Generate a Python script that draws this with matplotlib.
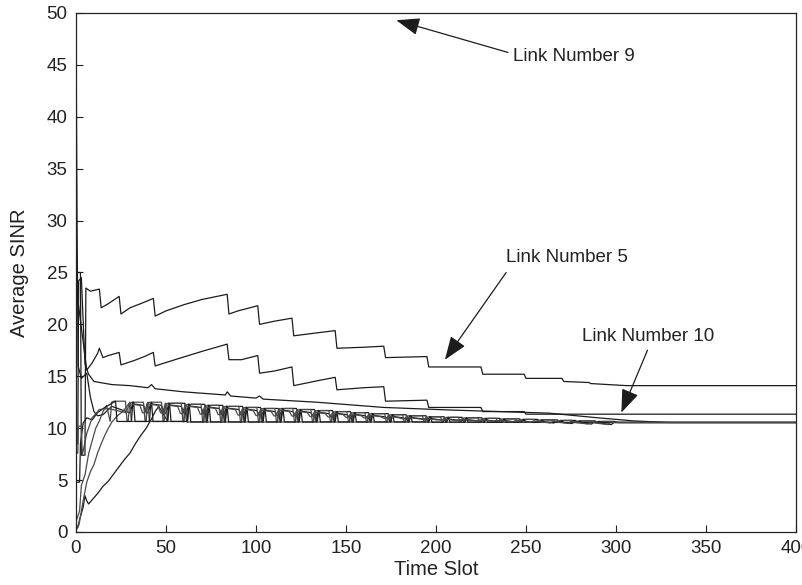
import matplotlib
matplotlib.use("Agg")
import matplotlib.pyplot as plt

plt.rcParams["font.family"] = ["Liberation Sans", "DejaVu Sans"]

# ---- data (time slot, average SINR) ----
# link 5: the upper saw-tooth
link5_t = [0, 2.5, 3, 5, 5.5, 8, 13, 14, 18, 24, 25, 30, 36, 43, 44, 50, 60, 70, 84, 85, 90,
           101, 102, 110, 120, 121, 130, 144, 145, 160, 171, 172, 195, 196, 225, 226, 249, 250,
           270, 271, 285, 286, 306, 400]
link5_v = [25.0, 25.0, 7.4, 7.4, 23.5, 23.2, 23.4, 21.6, 22.0, 22.7, 21.0, 21.6, 22.0, 22.5, 20.8,
           21.3, 21.9, 22.4, 22.9, 21.0, 21.3, 21.8, 20.0, 20.3, 20.6, 18.9, 19.1, 19.4, 17.7, 17.8,
           17.9, 16.8, 16.9, 15.9, 15.9, 15.2, 15.2, 14.8, 14.8, 14.5, 14.4, 14.3, 14.1, 14.1]

# link 10: the lower saw-tooth
link10_t = [0, 6, 9, 12, 13, 15, 18, 22, 24, 25, 32, 38, 43, 44, 55, 70, 84, 85, 92, 101, 102,
            110, 120, 121, 135, 144, 145, 160, 171, 172, 195, 196, 225, 226, 249, 250, 400]
link10_v = [23.8, 15.6, 16.3, 17.2, 17.7, 16.8, 17.0, 17.2, 17.3, 16.1, 16.5, 16.9, 17.3, 16.0,
            16.6, 17.4, 18.1, 16.6, 16.6, 17.0, 15.3, 15.5, 15.9, 14.1, 14.6, 14.9, 13.7, 13.9,
            14.0, 12.6, 12.7, 12.0, 12.0, 11.6, 11.6, 11.35, 11.35]

# slowly decaying link
slow_t = [0, 1, 1.5, 3, 5, 7, 10, 20, 30, 40, 42, 44, 60, 83, 84, 86, 100, 102, 104, 134, 171,
          208, 263, 290, 310, 330, 400]
slow_v = [8.5, 8.5, 24.2, 24.5, 16.2, 15.2, 14.5, 14.2, 14.1, 13.9, 14.2, 13.8, 13.5, 13.2, 13.5,
          13.1, 12.9, 13.1, 12.8, 12.5, 12.0, 11.75, 11.45, 11.0, 10.7, 10.55, 10.55]

# start of the links that end up in the bundle near 10.5
link9_t = [0, 0.6, 1.2, 3, 6, 8, 10, 12, 15, 18, 20]
link9_v = [50.0, 30.0, 16.0, 14.8, 15.3, 13.0, 11.6, 11.2, 11.3, 11.8, 12.1]
rampa_t = [0, 1, 2, 4, 5, 6, 7, 9, 12, 15, 18, 21, 24, 27, 30, 33, 36, 39, 42, 44, 46]
rampa_v = [0.3, 0.4, 1.2, 2.4, 3.5, 3.0, 2.7, 3.1, 3.7, 4.4, 4.9, 5.6, 6.3, 7.0, 7.6, 8.5, 9.3,
           10.0, 10.9, 11.6, 12.1]
rampb_t = [0, 1.5, 2, 4, 6, 8, 10, 12, 14, 16, 18, 20, 23, 26]
rampb_v = [0.6, 0.6, 1.0, 3.0, 4.8, 5.8, 6.5, 7.6, 8.5, 9.3, 10.0, 10.6, 11.2, 11.6]
rampc_t = [0, 2, 3, 5, 7, 9, 11, 13, 15, 17]
rampc_v = [1.0, 2.0, 4.5, 5.5, 7.5, 8.8, 10.0, 10.7, 11.6, 12.2]
startd_t = [0, 2, 2.5, 4, 6, 9, 12, 16]
startd_v = [4.8, 4.8, 8.5, 10.5, 11.0, 10.8, 11.5, 12.0]
starte_t = [0, 1, 1.3, 3, 3.5, 6, 9, 13, 18]
starte_v = [7.6, 7.6, 10.2, 10.2, 7.4, 9.5, 11.0, 11.8, 11.9]

# oscillation cells of the bundle
cell_t = [20, 30, 40, 50, 61, 72, 82, 93, 103, 113, 123, 133, 143, 153, 163, 174, 184, 195,
          205, 215, 226, 236, 247, 257, 268, 278, 289, 300]
cell_top = [12.6, 12.5, 12.5, 12.4, 12.3, 12.2, 12.1, 12.0, 11.9, 11.9, 11.8, 11.7, 11.6, 11.5,
            11.4, 11.3, 11.2, 11.1, 11.05, 11.0, 10.95, 10.9, 10.85, 10.8, 10.75, 10.7, 10.65]
cell_low = [10.65, 10.65, 10.65, 10.65, 10.6, 10.6, 10.6, 10.6, 10.6, 10.6, 10.6, 10.6, 10.6,
            10.6, 10.6, 10.6, 10.6, 10.58, 10.58, 10.58, 10.57, 10.57, 10.56, 10.56, 10.55,
            10.55, 10.55]
final_v = 10.55


def bundle_line(t0, v0, role, shift):
    t = list(t0)
    v = list(v0)
    for a, b, top, low in zip(cell_t[:-1], cell_t[1:], cell_top, cell_low):
        a, b = a + shift, b + shift
        if a <= t[-1]:
            continue
        mid = low + 0.45 * (top - low)
        if role == "up":
            pts = [(a, low), (a + 0.8, top - 0.1), (a + 2, top), (b - 1.5, top), (b - 0.6, low)]
        elif role == "down":
            pts = [(a, top), (a + 0.8, low), (b - 1.2, low), (b - 0.4, top - 0.1)]
        else:
            pts = [(a, mid), (a + 1.5, top - 0.15), (b - 2.5, top - 0.3), (b - 1, mid)]
        for x, y in pts:
            t.append(x)
            v.append(y)
    t += [cell_t[-1] + shift + 3, 400]
    v += [final_v, final_v]
    return t, v


fig = plt.figure(figsize=(8.03, 5.85), dpi=100)
ax = fig.add_axes([0.0946, 0.0906, 0.8966, 0.8872])

ink = "#1c1c1c"
grey = "#4a4a4a"
ax.plot(link5_t, link5_v, color=ink, lw=0.9)
ax.plot(link10_t, link10_v, color=ink, lw=0.9)
ax.plot(slow_t, slow_v, color=ink, lw=0.9)

bundle = [
    (link9_t, link9_v, "mid", 0, ink),
    (rampa_t, rampa_v, "up", 1, ink),
    (rampb_t, rampb_v, "down", 0, grey),
    (rampc_t, rampc_v, "up", -1, grey),
    (startd_t, startd_v, "down", 2, ink),
    (starte_t, starte_v, "mid", -2, grey),
]
for t0, v0, role, shift, col in bundle:
    bt, bv = bundle_line(t0, v0, role, shift)
    ax.plot(bt, bv, color=col, lw=0.9)

ax.set_xlim(0, 400)
ax.set_ylim(0, 50)
ax.set_xticks(range(0, 401, 50))
ax.set_yticks(range(0, 51, 5))
ax.tick_params(direction="in", length=5, width=0.8, labelsize=13.5, colors="#222222",
               top=False, right=False, pad=6)
for s in ax.spines.values():
    s.set_linewidth(0.9)
    s.set_color("#222222")

ax.set_xlabel("Time Slot", fontsize=14.5, color="#222222", labelpad=2)
ax.set_ylabel("Average SINR", fontsize=14.5, color="#222222", labelpad=13)

arrow = dict(arrowstyle="-|>,head_length=0.8,head_width=0.3", color=ink, lw=0.9,
             mutation_scale=18, shrinkA=0, shrinkB=0)
ax.annotate("", xy=(178, 49.3), xytext=(240, 46.2), arrowprops=arrow)
ax.text(243, 45.8, "Link Number 9", fontsize=13.5, color="#222222", va="center")
ax.annotate("", xy=(205, 16.6), xytext=(239, 25.0), arrowprops=arrow)
ax.text(239, 26.4, "Link Number 5", fontsize=13.5, color="#222222", va="center")
ax.annotate("", xy=(303, 11.5), xytext=(317.5, 17.5), arrowprops=arrow)
ax.text(281, 18.8, "Link Number 10", fontsize=13.5, color="#222222", va="center")

fig.savefig("out.png", dpi=100)
